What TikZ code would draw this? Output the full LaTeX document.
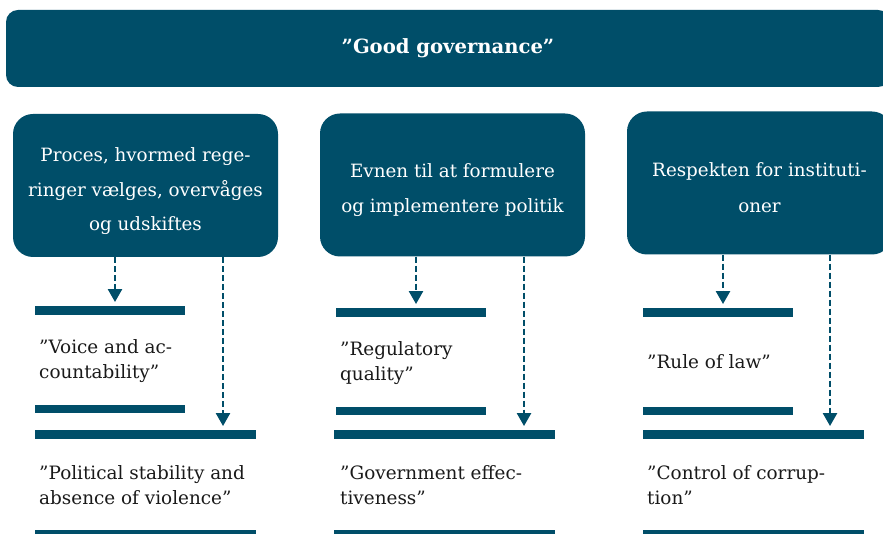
\documentclass[tikz,border=0pt]{standalone}
\usepackage{fontspec}
\setmainfont{DejaVu Serif}
\usetikzlibrary{arrows.meta}
\definecolor{govblue}{HTML}{004E69}
\definecolor{labeltext}{HTML}{1A1A1A}
\begin{document}
\begin{tikzpicture}[x=1pt,y=-1pt,
  banner/.style={fill=govblue, rounded corners=12pt, minimum width=884pt, minimum height=77pt, inner sep=0pt, text=white, font=\fontsize{19.6}{22}\selectfont\bfseries},
  box/.style={fill=govblue, rounded corners=20pt, minimum width=265pt, minimum height=143pt, inner sep=0pt},
  boxtext/.style={text=white, align=center, inner sep=0pt, font=\fontsize{18.3}{34.5}\selectfont},
  bar/.style={fill=govblue, inner sep=0pt, minimum height=8.5pt},
  narrowbar/.style={bar, minimum width=150pt},
  widebar/.style={bar, minimum width=221pt},
  lbl/.style={anchor=west, align=left, inner sep=0pt, text=labeltext, font=\fontsize{18.4}{25}\selectfont},
  arr/.style={draw=govblue, line width=2.5pt, dash pattern=on 6pt off 3pt, -{Triangle[width=14pt,length=13pt]}, shorten >=4pt}]
\clip (0,0) rectangle (883,534);
\fill[white] (0,0) rectangle (883,534);

\node[banner] (gg) at (448,48.5) {”Good governance”};

\node[box] (box1) at (145.5,185.5) {};
\node[box] (box2) at (452.5,185) {};
\node[box] (box3) at (759.5,183) {};
\node[boxtext] (box1t) at (box1.center |- 0,191.5) {Proces, hvormed rege-\\ringer vælges, overvåges\\og udskiftes};
\node[boxtext] (box2t) at (box2.center |- 0,190) {Evnen til at formulere\\og implementere politik};
\node[boxtext, font=\fontsize{18.3}{36}\selectfont] (box3t) at (box3.center |- 0,188) {Respekten for instituti-\\oner};

% column 1 bars
\node[narrowbar] (bar1t) at (110,310.5) {};
\node[narrowbar] (bar1b) at (110,409) {};
\node[widebar] (bar1w) at (145.5,434.5) {};
\node[widebar] (bar1e) at (145.5,534.5) {};
% column 2 bars
\node[narrowbar] (bar2t) at (411,312.5) {};
\node[narrowbar] (bar2b) at (411,411) {};
\node[widebar] (bar2w) at (444.5,434.5) {};
\node[widebar] (bar2e) at (444.5,534.5) {};
% column 3 bars
\node[narrowbar] (bar3t) at (718,312.5) {};
\node[narrowbar] (bar3b) at (718,411) {};
\node[widebar] (bar3w) at (753.5,434.5) {};
\node[widebar] (bar3e) at (753.5,534.5) {};

% labels
\node[lbl] (l1a) at (39,361) {”Voice and ac-\\countability”};
\node[lbl] (l1b) at (39,485) {”Political stability and\\absence of violence”};
\node[lbl] (l2a) at (340,363) {”Regulatory\\quality”};
\node[lbl] (l2b) at (340,485) {”Government effec-\\tiveness”};
\node[lbl] (l3a) at (647,362) {”Rule of law”};
\node[lbl] (l3b) at (647,485) {”Control of corrup-\\tion”};

% arrow x positions
\coordinate (x1a) at (115,0);
\coordinate (x1b) at (223,0);
\coordinate (x2a) at (416,0);
\coordinate (x2b) at (524,0);
\coordinate (x3a) at (723,0);
\coordinate (x3b) at (830,0);

\draw[arr] (box1.south -| x1a) -- (bar1t.north -| x1a);
\draw[arr] (box1.south -| x1b) -- (bar1w.north -| x1b);
\draw[arr] (box2.south -| x2a) -- (bar2t.north -| x2a);
\draw[arr] (box2.south -| x2b) -- (bar2w.north -| x2b);
\draw[arr] (box3.south -| x3a) -- (bar3t.north -| x3a);
\draw[arr] (box3.south -| x3b) -- (bar3w.north -| x3b);
\end{tikzpicture}
\end{document}
